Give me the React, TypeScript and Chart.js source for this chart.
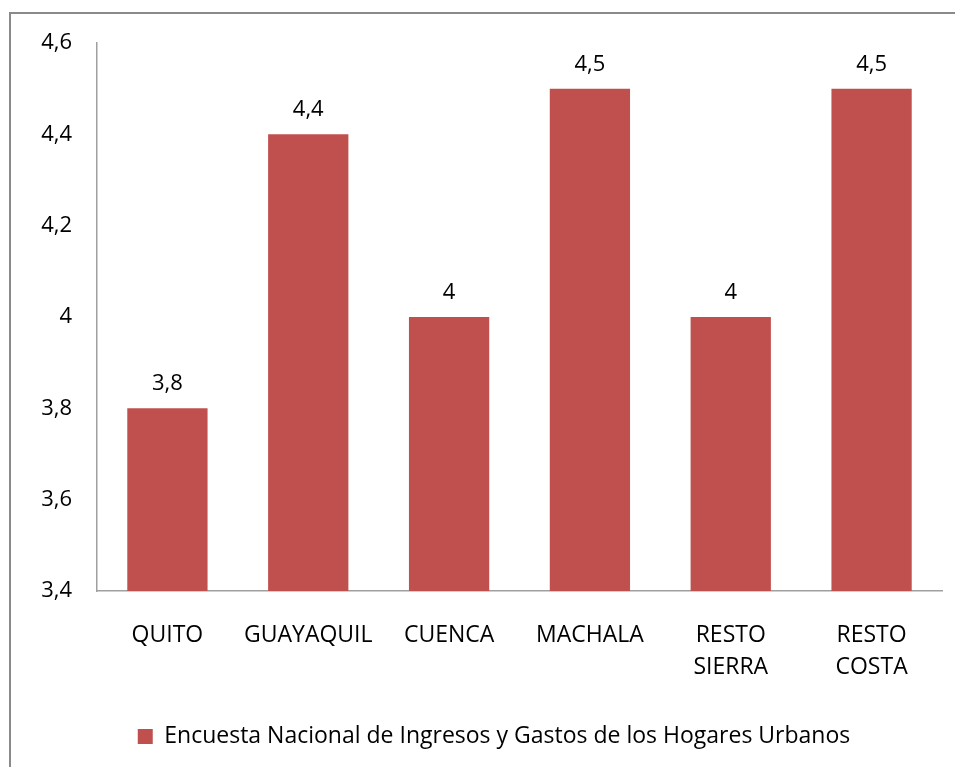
import React, { useEffect, useRef } from "react";
import { Chart, registerables } from "chart.js";

Chart.register(...registerables);

const categories: (string | string[])[] = [
  "QUITO",
  "GUAYAQUIL",
  "CUENCA",
  "MACHALA",
  ["RESTO", "SIERRA"],
  ["RESTO", "COSTA"],
];
const seriesLabel = "Encuesta Nacional de Ingresos y Gastos de los Hogares Urbanos";
const values = [3.8, 4.4, 4.0, 4.5, 4.0, 4.5];
const yMin = 3.4;
const yMax = 4.6;
const yStep = 0.2;

const FONT = "'Open Sans', sans-serif";
const BAR_COLOR = "#C0504D";

const fmt = (v: number) => String(Number(v.toFixed(1))).replace(".", ",");

const valueLabels = {
  id: "valueLabels",
  afterLayout(chart: any) {
    if (chart.legend) {
      chart.legend.left += 5;
      chart.legend.right += 5;
    }
  },
  afterDatasetsDraw(chart: any) {
    const ctx = chart.ctx;
    const meta = chart.getDatasetMeta(0);
    ctx.save();
    ctx.font = `22px ${FONT}`;
    ctx.fillStyle = "#000";
    ctx.textAlign = "center";
    ctx.textBaseline = "alphabetic";
    meta.data.forEach((bar: any, i: number) => {
      ctx.fillText(fmt(values[i]), bar.x, bar.y - 18);
    });
    ctx.restore();
  },
};

export default function App() {
  const ref = useRef<HTMLCanvasElement | null>(null);
  useEffect(() => {
    document.body.style.margin = "0";
    document.body.style.overflow = "hidden";
    if (!ref.current) return;
    const chart = new Chart(ref.current, {
      type: "bar",
      data: {
        labels: categories,
        datasets: [
          {
            label: seriesLabel,
            data: values,
            backgroundColor: BAR_COLOR,
            borderWidth: 0,
            categoryPercentage: 1,
            barPercentage: 0.57,
          },
        ],
      },
      options: {
        animation: false,
        responsive: false,
        maintainAspectRatio: false,
        layout: { padding: { left: 36, right: 13, top: 43, bottom: 9 } },
        plugins: {
          tooltip: { enabled: false },
          legend: {
            position: "bottom",
            labels: {
              boxWidth: 15,
              boxHeight: 15,
              padding: 10,
              color: "#000",
              font: { family: FONT, size: 23, lineHeight: 1.2 },
            },
          },
        },
        scales: {
          x: {
            grid: { display: false, drawTicks: false },
            border: { display: true, color: "#a0a0a0", width: 1.5 },
            ticks: {
              color: "#000",
              padding: 28,
              maxRotation: 0,
              autoSkip: false,
              font: { family: FONT, size: 23, lineHeight: 1.4 },
            },
            afterFit: (s: any) => {
              s.height = 124;
            },
          },
          y: {
            min: yMin,
            max: yMax,
            grid: { display: false, drawTicks: false },
            border: { display: true, color: "#a0a0a0", width: 1.5 },
            ticks: {
              stepSize: yStep,
              color: "#000",
              padding: 25,
              font: { family: FONT, size: 22 },
              callback: (v: any) => fmt(Number(v)),
            },
            afterFit: (s: any) => {
              s.width = 61;
            },
          },
        },
      },
      plugins: [valueLabels],
    });
    return () => chart.destroy();
  }, []);

  return (
    <div style={{ position: "relative", width: 955, height: 767, overflow: "hidden", background: "#fff" }}>
      <div
        style={{
          position: "absolute",
          left: 9,
          top: 12,
          width: 1000,
          height: 800,
          border: "2px solid #8a8a8a",
          boxSizing: "border-box",
        }}
      />
      <canvas ref={ref} width={955} height={767} style={{ position: "absolute", left: 0, top: 0 }} />
    </div>
  );
}
